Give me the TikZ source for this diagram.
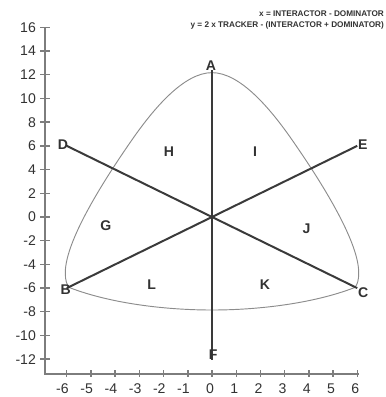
\documentclass[tikz,border=0pt]{standalone}
\usepackage{fontspec}
\setmainfont{Liberation Sans}
\usepackage{xcolor}
\usepackage{tikz}
\usetikzlibrary{arrows.meta,positioning,calc}
\definecolor{qdink}{RGB}{50,50,50}
\definecolor{qdline}{RGB}{58,58,58}
\definecolor{qdaxis}{RGB}{125,125,125}
\definecolor{qdring}{RGB}{140,140,140}
\tikzset{
  quad/.style={draw=qdline, line width=1.7pt, line cap=butt},
  axisln/.style={draw=qdaxis, line width=1.2pt},
  ring/.style={draw=qdring, line width=0.8pt, line join=round},
  ptlab/.style={inner sep=0pt, text=qdink, font=\fontsize{12}{14}\selectfont\bfseries},
  reglab/.style={ptlab},
  ylab/.style={anchor=east, inner sep=0pt, text=qdink, font=\fontsize{12}{14}\selectfont},
  xlab/.style={ylab},
  eqn/.style={anchor=base east, inner sep=0pt, text=qdink, font=\fontsize{7}{8}\selectfont\bfseries}
}
\begin{document}
\begin{tikzpicture}[x=0.726cm, y=0.3555cm]
  \useasboundingbox (-8.76,-15.19) rectangle (7.15,18.31);
  % axes
  \coordinate (ytop) at (-6.9,16);
  \coordinate (orig) at (-6.9,-13.25);
  \coordinate (xend) at (6.07,-13.25);
  \draw[axisln] (ytop) -- (orig) -- (xend);
  \foreach \v in {-12,-10,...,16} {
    \draw[axisln] (-7.09,\v) -- (-6.71,\v);
    \node[ylab] (y\v) at (-7.27,\v) {\v};
  }
  \foreach \u in {-6,...,6} {
    \draw[axisln] (\u,-13.5) -- (\u,-12.95);
    \node[xlab] (x\u) at (\u+0.09,-14.52) {\u};
  }
  % outline
  \draw[ring] (0,12.18) .. controls (1.157,12.18) and (2.401,9.173) .. (3.31,6.5)
    .. controls (4.136,4.068) and (6.062,-1.747) .. (6.062,-4.7)
    .. controls (6.062,-5.316) and (6.012,-5.696) .. (5.9,-5.95)
    .. controls (4.161,-7.325) and (1.86,-7.85) .. (0,-7.85)
    .. controls (-1.86,-7.85) and (-4.161,-7.325) .. (-5.9,-5.95)
    .. controls (-6.012,-5.696) and (-6.062,-5.316) .. (-6.062,-4.7)
    .. controls (-6.062,-1.747) and (-4.136,4.068) .. (-3.31,6.5)
    .. controls (-2.401,9.173) and (-1.157,12.18) .. cycle;
  % lines
  \foreach \n/\x/\y in {A/0/12.4, F/0/-12.1, D/-6/6, C/6/-6, B/-6/-6, E/6/6}
    \coordinate (p\n) at (\x,\y);
  \foreach \p/\q in {A/F,D/C,B/E} \draw[quad] (p\p) -- (p\q);
  \foreach \n/\x/\y in {A/-0.04/12.75, F/0.05/-11.6, D/-6.16/6.07, C/6.25/-6.35, B/-6.05/-6.16, E/6.23/6.07}
    \node[ptlab] (\n) at (\x,\y) {\n};
  \foreach \n/\x/\y in {H/-1.78/5.51, I/1.78/5.51, G/-4.39/-0.73, J/3.91/-0.95, L/-2.49/-5.74, K/2.19/-5.68}
    \node[reglab] (\n) at (\x,\y) {\n};
  % formulas
  \node[eqn] (xdef) at (7.11,16.88) {x = INTERACTOR - DOMINATOR};
  \node[eqn] (ydef) at (7.11,16.03) {y = 2 x TRACKER - (INTERACTOR + DOMINATOR)};
\end{tikzpicture}
\end{document}
